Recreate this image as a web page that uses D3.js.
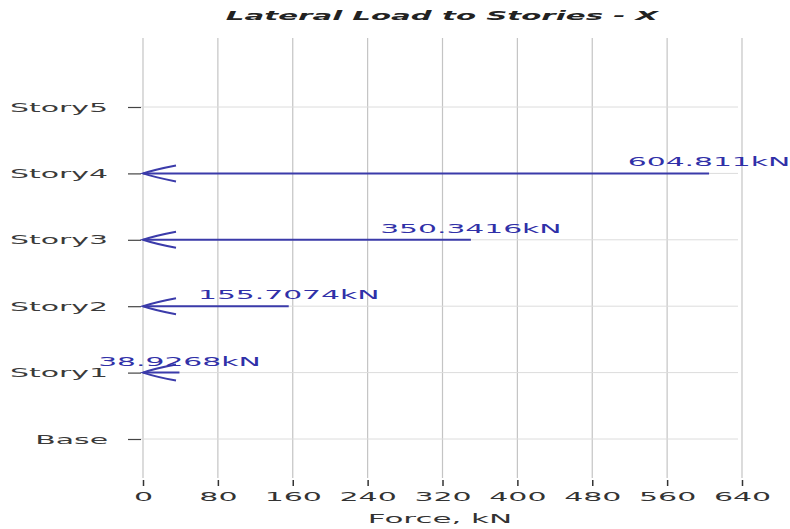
<!DOCTYPE html>
<html><head><meta charset="utf-8">
<script src="https://cdn.jsdelivr.net/npm/d3@7"></script>
<style>body{margin:0;background:#fff}svg{display:block}</style>
</head><body>
<svg id="c" width="790" height="529"></svg>
<script>
const stories = ["Story5","Story4","Story3","Story2","Story1","Base"];
const loadStories = ["Story1","Story2","Story3","Story4"];
const loadValues = [38.9268, 155.7074, 350.3416, 604.811];
const loadLabels = ["38.9268kN","155.7074kN","350.3416kN","604.811kN"];
const xTicks = [0,80,160,240,320,400,480,560,640];
const titleText = "Lateral Load to Stories - X";
const xTitle = "Force, kN";

const svg = d3.select("#c");
const x = d3.scaleLinear().domain([0,640]).range([143,742]);
const y = d3.scalePoint().domain(stories).range([107,439]);
const gridTop = 38, gridBottom = 478;
const font = "DejaVu Sans, Liberation Sans, Arial, sans-serif";

function stretch(sel, k){
  sel.each(function(){
    const w = this.getComputedTextLength();
    d3.select(this).attr("textLength", w*k).attr("lengthAdjust","spacingAndGlyphs");
  });
}

// vertical grid
svg.append("g").selectAll("line").data(xTicks).join("line")
  .attr("x1", d=>x(d)).attr("x2", d=>x(d))
  .attr("y1", gridTop).attr("y2", gridBottom)
  .attr("stroke","#c4c4c4").attr("stroke-width",1.2);
// horizontal grid
svg.append("g").selectAll("line").data(stories).join("line")
  .attr("x1", 141).attr("x2", 738)
  .attr("y1", d=>y(d)).attr("y2", d=>y(d))
  .attr("stroke","#dcdcdc").attr("stroke-width",1);

// x axis
const xAxis = svg.append("g").attr("transform",`translate(0,${gridBottom})`)
  .call(d3.axisBottom(x).tickValues(xTicks).tickSize(8).tickPadding(6));
xAxis.select(".domain").remove();
xAxis.selectAll(".tick line").attr("stroke","#333").attr("stroke-width",1.5).attr("y1",2);
xAxis.selectAll(".tick text").attr("font-family",font).attr("font-size",12.5)
  .attr("fill","#333").attr("dy","0.7em").call(stretch,2.4);

// y axis
const yAxis = svg.append("g").attr("transform",`translate(141,0)`)
  .call(d3.axisLeft(y).tickSize(13).tickPadding(20));
yAxis.select(".domain").remove();
yAxis.selectAll(".tick line").attr("stroke","#444").attr("stroke-width",1.2);
yAxis.selectAll(".tick text").attr("font-family",font).attr("font-size",13)
  .attr("fill","#3a3a3a").call(stretch,2.3);

// arrows
const blue = "#3b3baa";
const g = svg.append("g");
loadStories.forEach((s,i)=>{
  const yy = y(s), x0 = x(0), x1 = x(loadValues[i]);
  g.append("line").attr("x1",x0).attr("x2",x1).attr("y1",yy).attr("y2",yy)
    .attr("stroke",blue).attr("stroke-width",2);
  g.append("path")
    .attr("d",`M${x0+33},${yy-8} Q${x0+12},${yy-4} ${x0},${yy} Q${x0+12},${yy+4} ${x0+33},${yy+8}`)
    .attr("fill","none").attr("stroke",blue).attr("stroke-width",2);
  g.append("text").attr("x",x1).attr("y",yy-7).attr("text-anchor","middle")
    .attr("font-family",font).attr("font-size",12.5).attr("fill","#3030a8")
    .text(loadLabels[i]).call(stretch,2.38);
});

// title
svg.append("text").attr("x",442).attr("y",20).attr("text-anchor","middle")
  .attr("font-family",font).attr("font-size",13).attr("font-weight","bold")
  .attr("font-style","italic").attr("fill","#222").text(titleText).call(stretch,2.25);
// x title
svg.append("text").attr("x",440).attr("y",523).attr("text-anchor","middle")
  .attr("font-family",font).attr("font-size",13).attr("fill","#333")
  .text(xTitle).call(stretch,2.38);
</script>
</body></html>
